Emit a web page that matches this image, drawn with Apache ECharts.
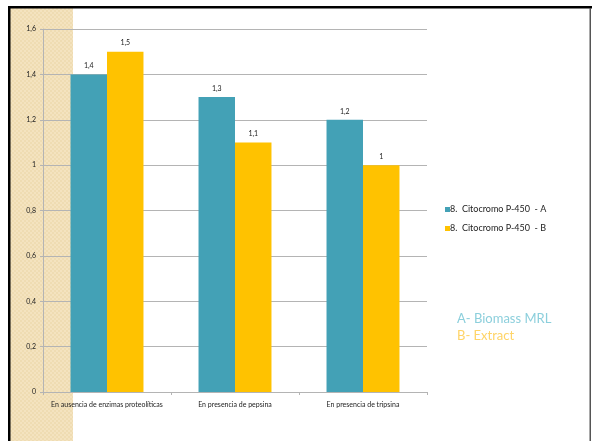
<!DOCTYPE html>
<html>
<head>
<meta charset="utf-8">
<script src="https://cdn.jsdelivr.net/npm/echarts@6/dist/echarts.min.js"></script>
<style>
  html, body { margin: 0; padding: 0; background: #ffffff; }
  #chart { width: 592px; height: 441px; }
</style>
</head>
<body>
<div id="chart"></div>
<script>
// Categories and values
const categories = [
  'En ausencia de enzimas proteolíticas',
  'En presencia de pepsina',
  'En presencia de tripsina'
];
const seriesNames = ['8.  Citocromo P-450  - A', '8.  Citocromo P-450  - B'];
const valuesA = [1.4, 1.3, 1.2];
const valuesB = [1.5, 1.1, 1.0];
const yTicks = { min: 0, max: 1.6, interval: 0.2 };
const noteLines = ['A- Biomass MRL', 'B- Extract'];

const FONT = 'Lato, "Open Sans", sans-serif';
const comma = v => String(Math.round(v * 10) / 10).replace('.', ',');

// small checker tile for the tan side strip
function checkerTile() {
  const c = document.createElement('canvas');
  c.width = 4; c.height = 4;
  const g = c.getContext('2d');
  g.fillStyle = '#f4e3bf';
  g.fillRect(0, 0, 4, 4);
  g.fillStyle = '#efdcb2';
  g.fillRect(0, 0, 2, 2);
  g.fillRect(2, 2, 2, 2);
  return c;
}

const chart = echarts.init(document.getElementById('chart'), null, { renderer: 'canvas' });

chart.setOption({
  backgroundColor: '#ffffff',
  animation: false,
  textStyle: { fontFamily: FONT },
  graphic: [
    { type: 'rect', z: -10, shape: { x: 10, y: 8, width: 63, height: 433 },
      style: { fill: { image: checkerTile(), repeat: 'repeat' } }, silent: true },
    { type: 'rect', z: 10, shape: { x: 8, y: 6, width: 584, height: 2.5 },
      style: { fill: '#000000' }, silent: true },
    { type: 'rect', z: 10, shape: { x: 8, y: 6, width: 2.5, height: 435 },
      style: { fill: '#000000' }, silent: true },
    { type: 'rect', z: 10, shape: { x: 589.5, y: 8, width: 1.5, height: 433 },
      style: { fill: '#555555' }, silent: true },
    { type: 'text', left: 457, top: 312,
      style: { text: noteLines[0], fill: '#8ccfdc', font: '13px ' + FONT } },
    { type: 'text', left: 457, top: 329,
      style: { text: noteLines[1], fill: '#ffd467', font: '13px ' + FONT } }
  ],
  legend: {
    orient: 'vertical',
    left: 440,
    top: 200,
    itemWidth: 5,
    itemHeight: 5,
    itemGap: 10,
    icon: 'rect',
    textStyle: { fontSize: 9, color: '#222', fontFamily: FONT, padding: [0, 0, 0, -5] },
    data: seriesNames
  },
  grid: { left: 43, right: 165, top: 29, bottom: 49, containLabel: false },
  xAxis: {
    type: 'category',
    data: categories,
    axisLine: { lineStyle: { color: '#b4b4b4', width: 1 } },
    axisTick: { show: true, length: 3, lineStyle: { color: '#b4b4b4' } },
    axisLabel: { fontSize: 7, color: '#222', margin: 9, interval: 0 }
  },
  yAxis: {
    type: 'value',
    min: yTicks.min,
    max: yTicks.max,
    interval: yTicks.interval,
    axisLine: { show: true, lineStyle: { color: '#b4b4b4', width: 1 } },
    axisTick: { show: true, length: 3, lineStyle: { color: '#b4b4b4' } },
    splitLine: { show: true, lineStyle: { color: '#b4b4b4', width: 1 } },
    axisLabel: { fontSize: 7, color: '#222', margin: 7, formatter: comma }
  },
  series: [
    {
      name: seriesNames[0], type: 'bar', data: valuesA,
      itemStyle: { color: '#43a1b6' },
      barGap: '0%', barCategoryGap: '43%',
      label: { show: true, position: 'top', distance: 5, fontSize: 7, color: '#222', formatter: p => comma(p.value) }
    },
    {
      name: seriesNames[1], type: 'bar', data: valuesB,
      itemStyle: { color: '#ffc200' },
      barGap: '0%', barCategoryGap: '43%',
      label: { show: true, position: 'top', distance: 5, fontSize: 7, color: '#222', formatter: p => comma(p.value) }
    }
  ]
});
</script>
</body>
</html>
